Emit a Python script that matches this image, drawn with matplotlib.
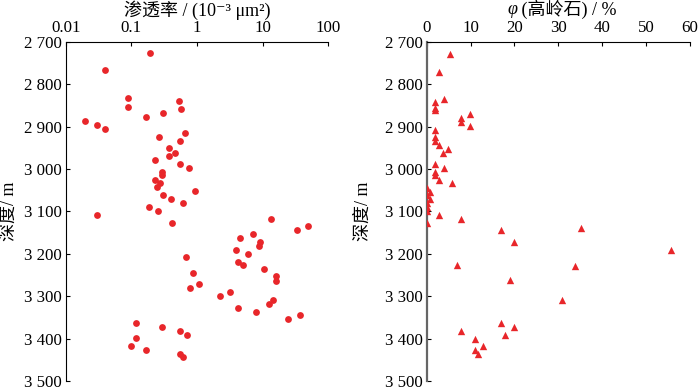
import matplotlib.pyplot as plt
from matplotlib.ticker import FuncFormatter, FixedLocator

plt.rcParams['font.family'] = ['Liberation Serif', 'Noto Sans CJK SC', 'DejaVu Sans']
plt.rcParams['font.size'] = 12

# permeability (10^-3 um^2) vs depth (m)
perm = [0.19, 0.040, 0.088, 0.088, 0.53, 0.58, 0.30, 0.165, 0.0197, 0.030,
        0.040, 0.65, 0.264, 0.56, 0.375, 0.457, 0.375, 0.232, 0.56, 0.746,
        0.297, 0.297, 0.232, 0.274, 0.246, 0.933, 0.30, 0.40, 0.61, 0.188,
        0.255, 0.030, 0.42, 13.4, 33.4, 49.6, 7.2, 4.57, 9.2, 8.9,
        3.93, 6.05, 0.69, 4.26, 5.08, 10.4, 0.88, 15.8, 15.8, 1.09,
        0.78, 3.14, 2.24, 14.4, 12.3, 4.21, 8.0, 36.6, 24.6, 0.118,
        0.297, 0.55, 0.118, 0.70, 0.099, 0.167, 0.55, 0.61]
perm_depth = [2727, 2767, 2833, 2853, 2840, 2858, 2869, 2878, 2887, 2897,
              2905, 2915, 2924, 2933, 2951, 2961, 2969, 2978, 2988, 2997,
              3007, 3015, 3025, 3033, 3043, 3051, 3061, 3070, 3079, 3090,
              3099, 3109, 3126, 3117, 3144, 3135, 3154, 3163, 3172, 3181,
              3190, 3200, 3208, 3218, 3227, 3236, 3245, 3253, 3263, 3272,
              3281, 3290, 3299, 3308, 3317, 3327, 3336, 3345, 3354, 3363,
              3372, 3381, 3399, 3391, 3417, 3427, 3435, 3444]

# kaolinite content (%) vs depth (m)
kaol = [5.3, 2.9, 3.9, 1.8, 1.8, 1.8, 9.9, 7.8, 7.8, 9.8,
        1.8, 1.8, 1.8, 2.7, 4.8, 3.8, 1.8, 3.9, 1.8, 1.8,
        2.7, 5.8, 0.0, 0.8, 0.0, 0.8, 0.0, 0.0, 0.0, 2.8,
        7.9, 0.0, 16.9, 35.2, 19.8, 55.8, 6.8, 33.9, 18.9, 30.8,
        16.9, 19.8, 7.9, 17.8, 10.9, 12.8, 10.9, 11.8]
kaol_depth = [2729, 2771, 2834, 2841, 2856, 2861, 2870, 2880, 2889, 2898,
              2907, 2924, 2933, 2943, 2952, 2961, 2989, 2998, 3007, 3015,
              3025, 3034, 3044, 3053, 3062, 3070, 3081, 3090, 3100, 3109,
              3118, 3127, 3144, 3140, 3172, 3190, 3226, 3229, 3262, 3309,
              3363, 3372, 3381, 3391, 3400, 3418, 3427, 3436]

depth_ticks = [2700, 2800, 2900, 3000, 3100, 3200, 3300, 3400, 3500]
red = '#e8262a'

fig = plt.figure(figsize=(7, 3.87), dpi=100)
ax1 = fig.add_axes([0.0939, 0.015, 0.375, 0.877])
ax2 = fig.add_axes([0.6096, 0.015, 0.376, 0.877])

# thousands split by a space, e.g. "2 700"
depth_fmt = FuncFormatter(lambda v, p: f'{int(v):,}'.replace(',', ' '))

for ax in (ax1, ax2):
    ax.set_ylim(3500, 2700)
    ax.yaxis.set_major_locator(FixedLocator(depth_ticks))
    ax.yaxis.set_major_formatter(depth_fmt)
    ax.xaxis.tick_top()
    ax.spines['right'].set_visible(False)
    ax.spines['bottom'].set_visible(False)
    ax.tick_params(direction='in', length=3, width=0.8, pad=3, labelsize=12.2)
    ax.tick_params(axis='x', pad=4)
    ax.set_ylabel('深度/ m', fontsize=13)

ax1.yaxis.set_label_coords(-0.182, 0.5)
ax2.yaxis.set_label_coords(-0.208, 0.5)

ax1.scatter(perm, perm_depth, s=24, color=red, marker='o', linewidths=0, zorder=3)
ax1.set_xscale('log')
ax1.set_xlim(0.01, 100)
ax1.xaxis.set_major_locator(FixedLocator([0.01, 0.1, 1, 10, 100]))
ax1.xaxis.set_major_formatter(FuncFormatter(lambda v, p: f'{v:g}'))
ax1.minorticks_off()
ax1.annotate('渗透率 / (10⁻³ μm²)', xy=(0.5, 1), xycoords='axes fraction',
             xytext=(0, 23), textcoords='offset points',
             ha='center', va='center', fontsize=13)

ax2.scatter(kaol, kaol_depth, s=28, color=red, marker='^', linewidths=0, zorder=3)
ax2.set_xlim(0, 60)
ax2.xaxis.set_major_locator(FixedLocator([0, 10, 20, 30, 40, 50, 60]))
ax2.spines['left'].set_color('#666666')
ax2.spines['left'].set_linewidth(1.6)
ax2.annotate('φ', xy=(0.343, 1), xycoords='axes fraction',
             xytext=(0, 23), textcoords='offset points',
             ha='right', va='center', fontsize=13, style='italic')
ax2.annotate(' (高岭石) / %', xy=(0.343, 1), xycoords='axes fraction',
             xytext=(0, 23), textcoords='offset points',
             ha='left', va='center', fontsize=13)

fig.savefig('out.png', dpi=100)
